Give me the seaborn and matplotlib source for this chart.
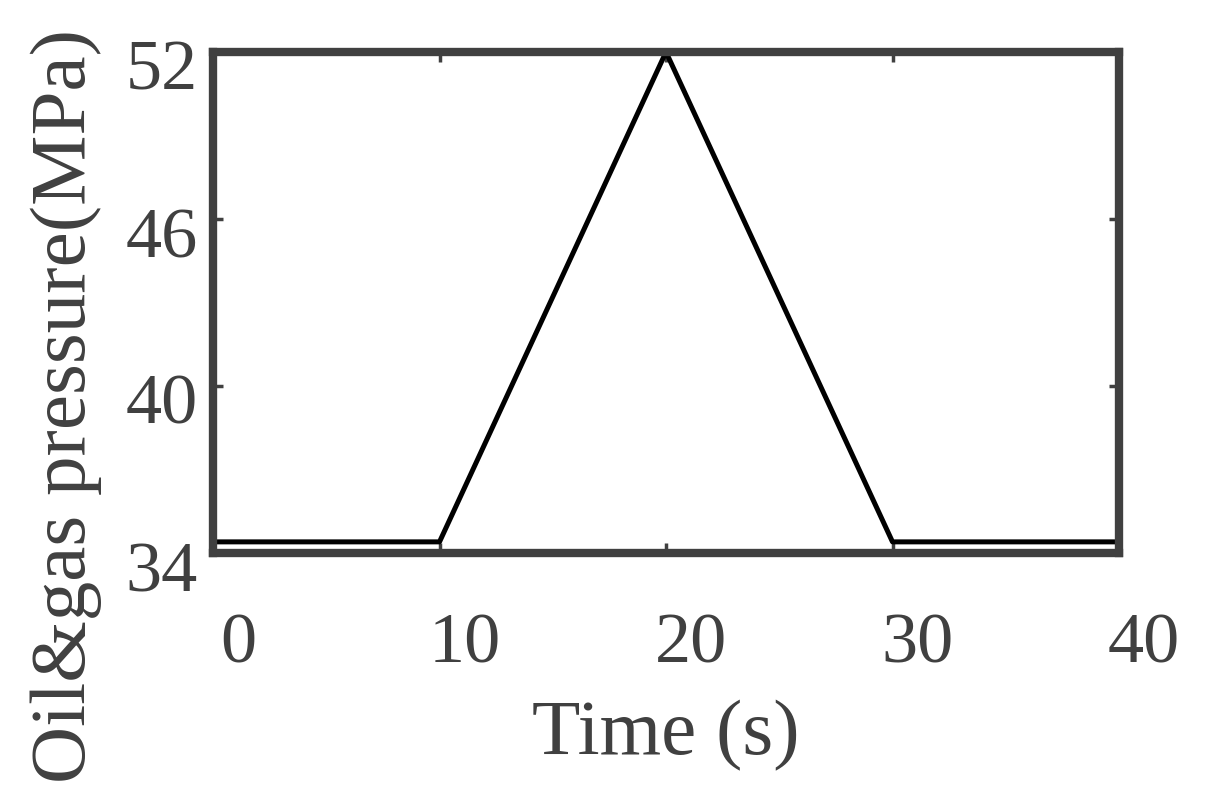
import matplotlib
matplotlib.use("Agg")
import matplotlib.pyplot as plt
import matplotlib.transforms as mtransforms
import seaborn as sns
import pandas as pd

time_s = [0, 10, 20, 30, 40]
pressure_mpa = [34.4, 34.4, 52.0, 34.4, 34.4]
x_ticks = [0, 10, 20, 30, 40]
y_ticks = [34, 40, 46, 52]

sns.set_style("ticks")
plt.rcParams['font.family'] = ['Liberation Serif', 'DejaVu Serif']
gray = '#404040'

fig = plt.figure(figsize=(12.09, 7.98), dpi=100)
ax = fig.add_axes([213/1209, 1 - 553/798, (1119-213)/1209, (553-52)/798])

df = pd.DataFrame({"Time (s)": time_s, "P": pressure_mpa})
sns.lineplot(data=df, x="Time (s)", y="P", ax=ax, color='black', linewidth=3.6)

ax.set_xlim(0, 40)
ax.set_ylim(34, 52)
ax.set_xticks(x_ticks)
ax.set_yticks(y_ticks)
for s in ax.spines.values():
    s.set_visible(True)
    s.set_color(gray)
    s.set_linewidth(6)
    s.set_capstyle('projecting')
ax.tick_params(direction='in', length=7, width=2.5, color=gray,
               top=True, right=True, labelsize=52, labelcolor=gray)
ax.tick_params(axis='x', pad=43)
ax.tick_params(axis='y', pad=11)

dx = mtransforms.ScaledTranslation(0.25, 0, fig.dpi_scale_trans)
dy = mtransforms.ScaledTranslation(0, -0.13, fig.dpi_scale_trans)
for lbl in ax.get_xticklabels():
    lbl.set_transform(lbl.get_transform() + dx)
for lbl in ax.get_yticklabels():
    lbl.set_transform(lbl.get_transform() + dy)

ax.set_xlabel("Time (s)", fontsize=57, color=gray)
ax.set_ylabel("Oil&gas pressure(MPa)", fontsize=57, color=gray)
ax.xaxis.set_label_coords(0.5, -0.293)
ax.yaxis.set_label_coords(-0.122, 0.293)

fig.savefig("out.png", dpi=100)
